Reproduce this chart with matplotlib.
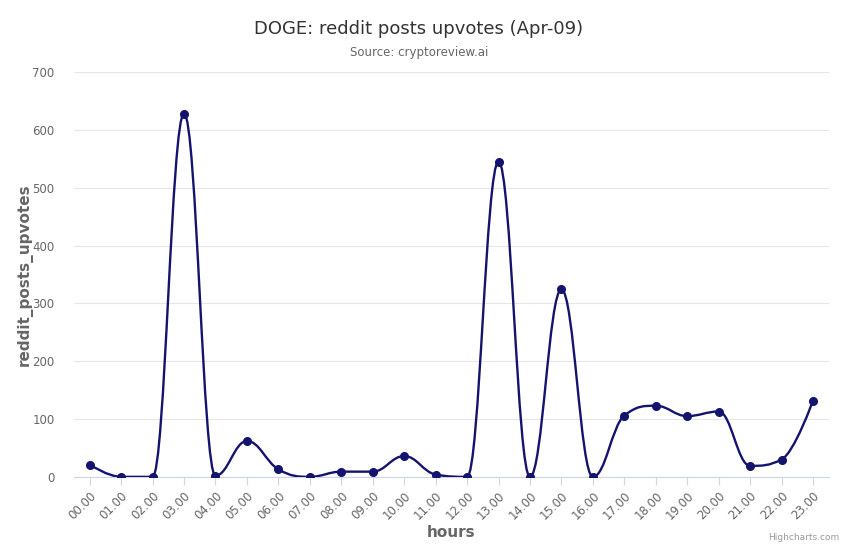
import numpy as np
import matplotlib
matplotlib.use("Agg")
import matplotlib.pyplot as plt
from matplotlib.path import Path
from matplotlib.patches import PathPatch

hours = ["00.00", "01.00", "02.00", "03.00", "04.00", "05.00", "06.00", "07.00",
         "08.00", "09.00", "10.00", "11.00", "12.00", "13.00", "14.00", "15.00",
         "16.00", "17.00", "18.00", "19.00", "20.00", "21.00", "22.00", "23.00"]
upvotes = [21, 0, 0, 628, 2, 62, 13, 0, 9, 9, 36, 4, 0, 545, 0, 324, 0, 106, 123, 105, 113, 19, 30, 132]

LINE = "#14146e"


def spline_path(xs, ys, smoothing=1.5):
    # bezier control points the way highcharts builds its spline
    denom = smoothing + 1
    verts = [(xs[0], ys[0])]
    codes = [Path.MOVETO]
    n = len(xs)
    ctrl = []
    for i in range(n):
        if i == 0 or i == n - 1:
            ctrl.append(((xs[i], ys[i]), (xs[i], ys[i])))
            continue
        lx, ly = xs[i - 1], ys[i - 1]
        nx, ny = xs[i + 1], ys[i + 1]
        px, py = xs[i], ys[i]
        lcx = (smoothing * px + lx) / denom
        lcy = (smoothing * py + ly) / denom
        rcx = (smoothing * px + nx) / denom
        rcy = (smoothing * py + ny) / denom
        if rcx != lcx:
            corr = (rcy - lcy) * (rcx - px) / (rcx - lcx) + py - rcy
            lcy += corr
            rcy += corr
        if lcy > ly and lcy > py:
            lcy = max(ly, py)
            rcy = 2 * py - lcy
        elif lcy < ly and lcy < py:
            lcy = min(ly, py)
            rcy = 2 * py - lcy
        if rcy > ny and rcy > py:
            rcy = max(ny, py)
            lcy = 2 * py - rcy
        elif rcy < ny and rcy < py:
            rcy = min(ny, py)
            lcy = 2 * py - rcy
        ctrl.append(((lcx, lcy), (rcx, rcy)))
    for i in range(1, n):
        verts += [ctrl[i - 1][1], ctrl[i][0], (xs[i], ys[i])]
        codes += [Path.CURVE4] * 3
    return Path(verts, codes)


fig = plt.figure(figsize=(8.5, 5.5), dpi=100)
ax = fig.add_axes([0.087, 0.133, 0.888, 0.736])

x = np.arange(len(hours))
ax.add_patch(PathPatch(spline_path(list(x), upvotes), fill=False, edgecolor=LINE, lw=1.7, zorder=3))
ax.plot(x, upvotes, "o", color=LINE, ms=5.5, zorder=4)

ax.set_xlim(-0.5, len(hours) - 0.5)
ax.set_ylim(0, 700)
ax.set_yticks(range(0, 701, 100))
ax.set_xticks(x)
ax.set_xticklabels(hours, rotation=45, ha="right", rotation_mode="anchor", fontsize=8.5, color="#666666")
ax.tick_params(axis="y", length=0, labelsize=8.5, labelcolor="#666666", pad=14)
ax.tick_params(axis="x", length=6, color="#ccd6eb", pad=3)
ax.grid(axis="y", color="#e6e6e6", lw=0.8)
ax.set_axisbelow(True)
for s in ["top", "right", "left"]:
    ax.spines[s].set_visible(False)
ax.spines["bottom"].set_color("#ccd6eb")

ax.set_xlabel("hours", fontsize=11, fontweight="bold", color="#666666", labelpad=2)
ax.set_ylabel("reddit_posts_upvotes", fontsize=11, fontweight="bold", color="#666666", labelpad=0)

fig.text(0.493, 0.948, "DOGE: reddit posts upvotes (Apr-09)", ha="center", va="center", fontsize=13, color="#333333")
fig.text(0.493, 0.905, "Source: cryptoreview.ai", ha="center", va="center", fontsize=8.5, color="#666666")
fig.text(0.988, 0.015, "Highcharts.com", ha="right", va="bottom", fontsize=6.5, color="#999999")

fig.savefig("out.png", dpi=100)
